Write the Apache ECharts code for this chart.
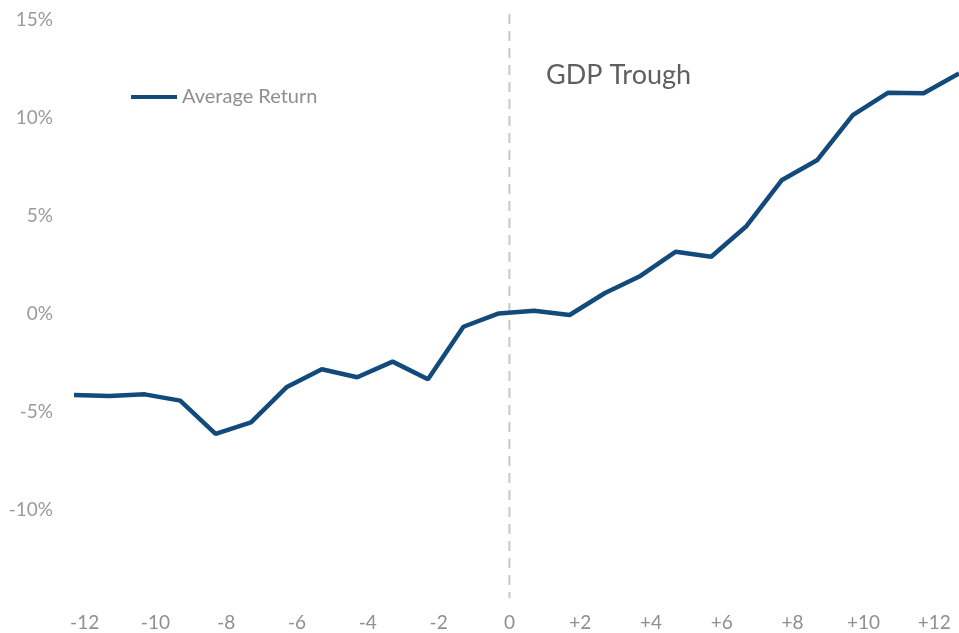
<!DOCTYPE html>
<html><head><meta charset="utf-8">
<script src="https://cdn.jsdelivr.net/npm/echarts@6/dist/echarts.min.js"></script>
<style>html,body{margin:0;padding:0;background:#fff}#c{width:959px;height:633px}</style>
</head><body><div id="c"></div>
<script>
// x positions (months relative to GDP trough) of each observation
const xValues = [-12.3,-11.3,-10.3,-9.3,-8.3,-7.3,-6.3,-5.3,-4.3,-3.3,-2.3,-1.3,-0.3,0.7,1.7,2.7,3.7,4.7,5.7,6.7,7.7,8.7,9.7,10.7,11.7,12.7];
// Average return (%)
const avgReturn = [-4.13,-4.18,-4.10,-4.42,-6.12,-5.53,-3.74,-2.82,-3.23,-2.43,-3.33,-0.65,0.03,0.17,-0.05,1.07,1.94,3.18,2.92,4.49,6.84,7.86,10.15,11.29,11.26,12.27];
// x tick labels
const xTicks = [-12,-10,-8,-6,-4,-2,0,2,4,6,8,10,12];
// trough marker line extent
const troughLine = [[0,15.3],[0,-14.5]];

const chart = echarts.init(document.getElementById('c'));
chart.setOption({
  animation:false,
  backgroundColor:'#fff',
  textStyle:{fontFamily:'Lato'},
  title:{text:'GDP Trough',left:541,top:57,textStyle:{fontFamily:'Lato',fontSize:27,fontWeight:'normal',color:'#5f5f5f'}},
  legend:{left:131,top:87,padding:0,icon:'rect',itemWidth:46,itemHeight:4,
    data:['Average Return'],
    textStyle:{fontFamily:'Lato',fontSize:20,color:'#8f8f8f'}},
  grid:{left:74,right:-3,top:20,bottom:25,containLabel:false},
  xAxis:{type:'value',min:-12.3,max:12.7,
    axisLine:{show:false},axisTick:{show:false},splitLine:{show:false},
    axisLabel:{customValues:xTicks,margin:5,fontFamily:'Lato',fontSize:19,color:'#8f8f8f',
      formatter:v=>v>0?'+'+v:String(v)}},
  yAxis:{type:'value',min:-15,max:15,interval:5,
    axisLine:{show:false},axisTick:{show:false},splitLine:{show:false},
    axisLabel:{margin:21,showMinLabel:false,fontFamily:'Lato',fontSize:19,color:'#9a9a9a',
      formatter:v=>v+'%'}},
  series:[
    {name:'trough',type:'line',data:troughLine,symbol:'none',silent:true,clip:false,
      lineStyle:{color:'#c8c8c8',width:2,type:[10,7]},z:1},
    {name:'Average Return',type:'line',data:xValues.map((x,i)=>[x,avgReturn[i]]),
      symbol:'none',lineStyle:{color:'#124a7c',width:4.5},itemStyle:{color:'#124a7c'},z:3}
  ]
});
</script></body></html>
